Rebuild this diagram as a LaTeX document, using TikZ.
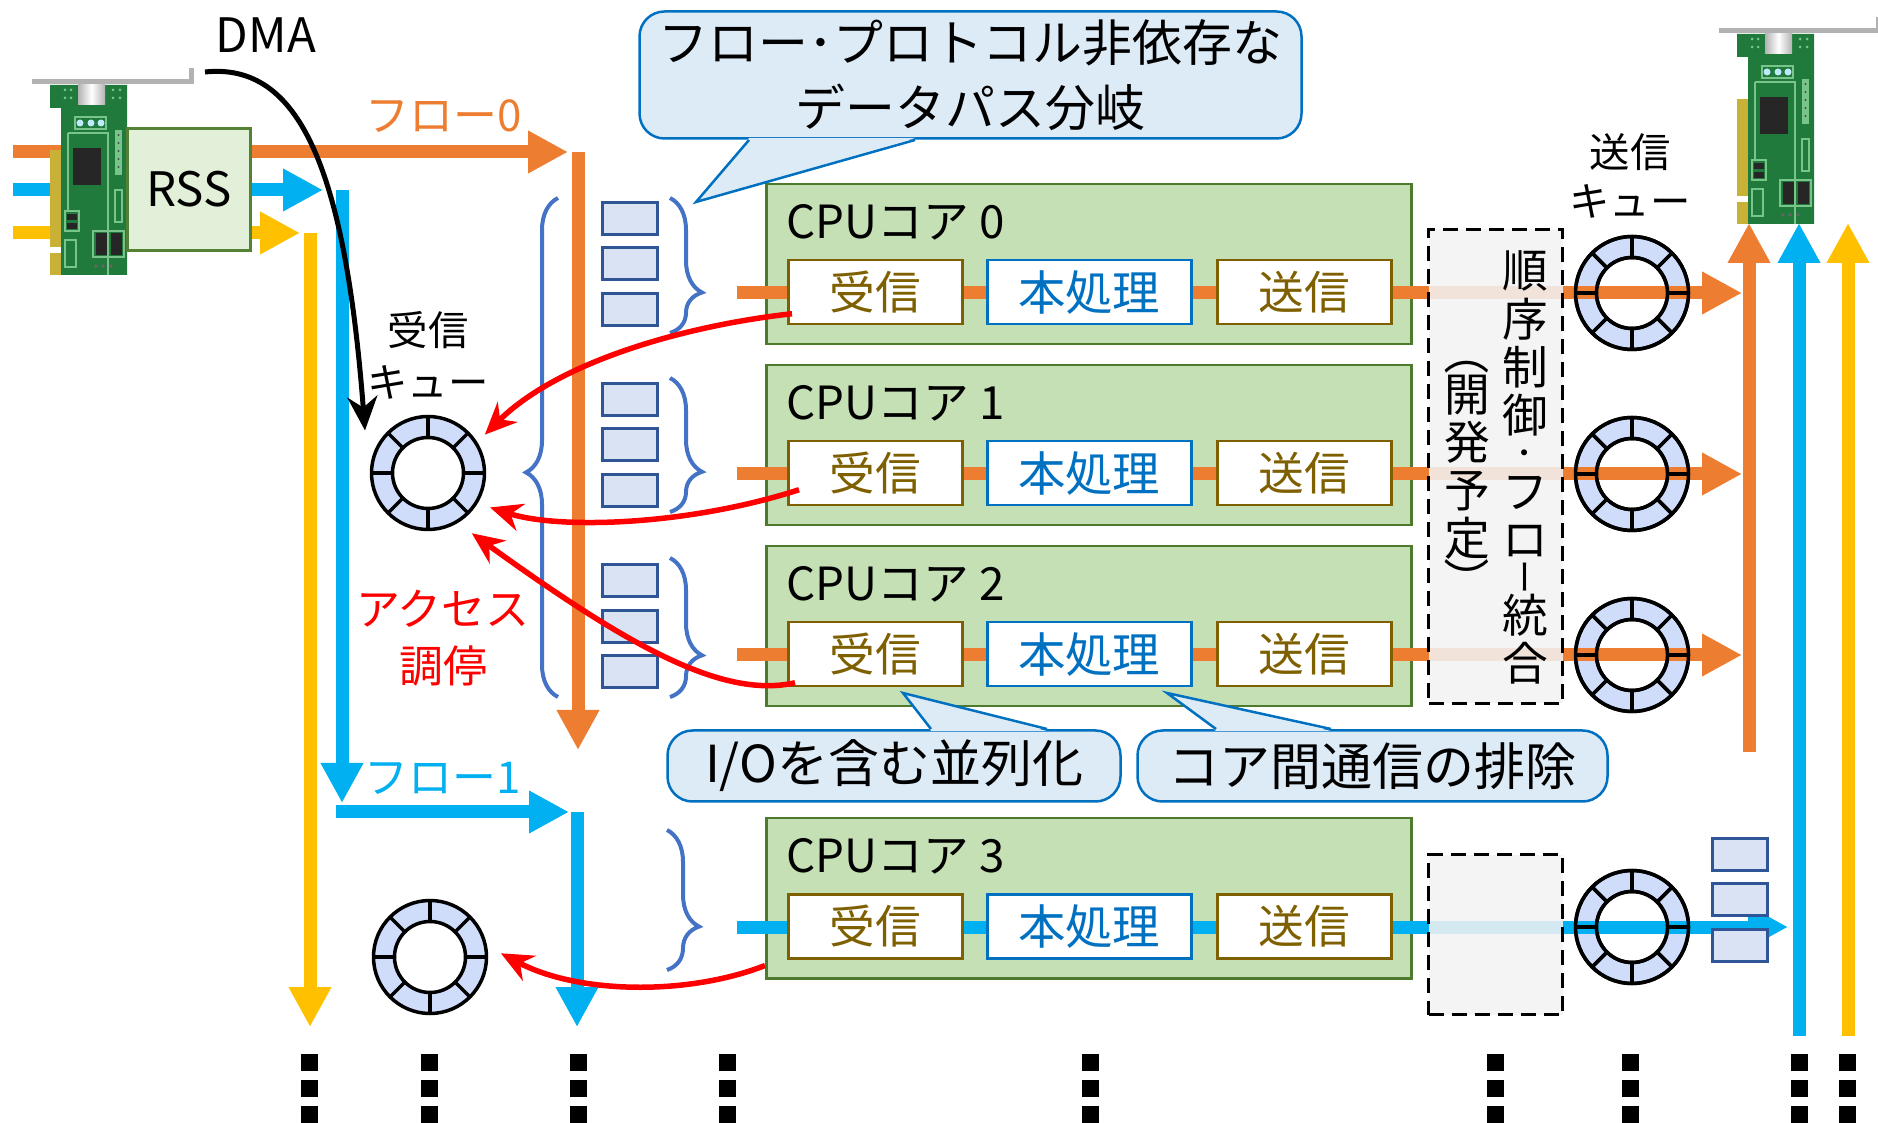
\documentclass[tikz,border=0pt]{standalone}
\usepackage{fontspec}
\setmainfont{Noto Sans CJK JP}
\usetikzlibrary{arrows.meta,decorations.pathreplacing}

\definecolor{floworange}{HTML}{ED7D31}
\definecolor{flowblue}{HTML}{00B0F0}
\definecolor{flowyellow}{HTML}{FFC000}
\definecolor{corefill}{HTML}{C5E0B4}
\definecolor{coreline}{HTML}{4E7A2E}
\definecolor{rssfill}{HTML}{E2F0D9}
\definecolor{rssline}{HTML}{548235}
\definecolor{stageline}{HTML}{7F6000}
\definecolor{procline}{HTML}{0070C0}
\definecolor{qfill}{HTML}{DAE3F3}
\definecolor{qline}{HTML}{2F5597}
\definecolor{bracecol}{HTML}{4472C4}
\definecolor{ringfill}{HTML}{CFDDFB}
\definecolor{bubblefill}{HTML}{DDEBF7}
\definecolor{bubbleline}{HTML}{0070C0}
\definecolor{pendfill}{HTML}{F2F2F2}
\definecolor{pcb}{HTML}{1F7A3B}
\definecolor{pcbtrace}{HTML}{79C48A}
\definecolor{pins}{HTML}{C9B037}

% network card, origin = top left corner of the board
\newcommand{\nic}[1]{%
  \begin{scope}[shift={#1}]
    \draw[gray!60, line width=0.5mm] (-18,-1) -- (141,-1) -- (141,-15);
    \fill[pcb] (0,2) -- (77,2) -- (77,192) -- (11,192) -- (11,25) -- (0,25) -- cycle;
    \fill[pins] (0,67) rectangle (11,164);
    \fill[pins] (0,170) rectangle (11,192);
    \shade[left color=gray!60, right color=gray!60, middle color=white] (28,2) rectangle (55,22);
    \draw[pcbtrace, line width=0.15mm] (25,34) rectangle (56,46);
    \foreach \x in {30,41,51} \fill[cyan!25] (\x,40) circle (0.35mm);
    \draw[pcbtrace, line width=0.15mm] (18,50) -- (58,50) -- (58,192) (18,50) -- (18,128);
    \fill[black!85] (23,65) rectangle (51,102);
    \fill[pcbtrace] (65,47) rectangle (72,92);
    \foreach \y in {52,60,...,88} \fill[black!70] (68.5,\y) circle (0.12mm);
    \draw[pcbtrace, line width=0.15mm] (65,107) rectangle (72,139);
    \draw[pcbtrace, line width=0.15mm] (15,128) rectangle (29,148);
    \fill[black!85] (17,131) rectangle (27,137);
    \fill[black!85] (17,140) rectangle (27,146);
    \draw[pcbtrace, line width=0.15mm] (43,148) rectangle (74,174);
    \fill[black!85] (46,150) rectangle (57,172);
    \fill[black!85] (61,150) rectangle (72,172);
    \draw[pcbtrace, line width=0.15mm] (15,157) rectangle (26,184);
    \foreach \x in {46,53,61} \fill[black!60] (\x,183) circle (0.18mm);
    \foreach \x/\y in {15/7,21/7,15/15,21/15,63/7,70/7,63/15,70/15} \fill[pcbtrace] (\x,\y) circle (0.15mm);
  \end{scope}}

% upright glyph turned for vertical setting (em box kept so it stays centred)
\newcommand{\vturn}[1]{\rotatebox[origin=c]{-90}{\rule[-0.12em]{0pt}{1em}#1}}
\newcommand{\vsmall}[1]{{\fontsize{8}{8}\selectfont #1}}
\newcommand{\vbar}{{\fontsize{10}{10}\selectfont\vturn{ー}}}

\tikzset{
  flow/.style={line width=1.3mm, -{Triangle[length=4mm,width=4mm]}},
  core/.style={draw=coreline, fill=corefill, line width=0.25mm, minimum width=64.5mm, minimum height=16mm, inner sep=0, anchor=north west},
  stage/.style={draw=stageline, text=stageline, fill=white, line width=0.25mm, minimum width=17.4mm, minimum height=6.4mm, inner sep=0, anchor=north west},
  proc/.style={stage, draw=procline, text=procline, minimum width=20.4mm},
  qbox/.style={draw=qline, fill=qfill, line width=0.3mm, minimum width=5.5mm, minimum height=3.2mm, inner sep=0},
  grp/.style={draw=bracecol, line width=0.4mm, decorate, decoration={brace, amplitude=3.2mm, aspect=#1}},
  ring/.style={circle, draw, line width=0.35mm, fill=ringfill, minimum size=11.3mm, inner sep=0,
    path picture={
      \draw[line width=0.35mm, fill=#1] (path picture bounding box.center) circle (3.55mm);
      \foreach \a in {0,45,...,315}
        \draw[line width=0.35mm] ([shift={(\a:3.55mm)}]path picture bounding box.center)
          -- ([shift={(\a:6mm)}]path picture bounding box.center);
    }},
  ring/.default=white,
  pending/.style={draw, dash pattern=on 1.5mm off 0.8mm, line width=0.3mm, fill=pendfill, fill opacity=0.88, inner sep=0},
  bubble/.style={draw=bubbleline, fill=bubblefill, line width=0.25mm, rounded corners=2.5mm, align=center, inner sep=0},
  arb/.style={red, line width=0.55mm, -{Stealth[length=3.2mm,width=2.8mm]}},
  lbl/.style={inner sep=0, align=center},
}

\begin{document}
\begin{tikzpicture}[x=0.1mm, y=-0.1mm, font=\fontsize{13}{15}\selectfont]
  \useasboundingbox (0,0) rectangle (1878,1123);

  % flows out of the receiving card
  \path (13,152) coordinate (o0) (568,152) coordinate (o1) (578,152) coordinate (o2) (578,750) coordinate (o3);
  \path (13,190) coordinate (b0) (323,190) coordinate (b1) (342,190) coordinate (b2) (342,803) coordinate (b3)
        (336,812) coordinate (b4) (569,812) coordinate (b5) (577,812) coordinate (b6) (577,1027) coordinate (b7);
  \path (13,233) coordinate (y0) (300,233) coordinate (y1) (310,233) coordinate (y2) (310,1027) coordinate (y3);
  \draw[flow, floworange] (o0) -- (o1);
  \draw[flow, floworange] (o2) -- (o3);
  \draw[flow, flowblue] (b0) -- (b1);
  \draw[flow, flowblue] (b2) -- (b3);
  \draw[flow, flowblue] (b4) -- (b5);
  \draw[flow, flowblue] (b6) -- (b7);
  \draw[flow, flowyellow] (y0) -- (y1);
  \draw[flow, flowyellow] (y2) -- (y3);

  \nic{(50,83)}
  \node[draw=rssline, fill=rssfill, line width=0.25mm, minimum width=12.3mm, minimum height=12.2mm, font=\fontsize{13.5}{15}\selectfont] (rss) at (189,189.5) {RSS};

  % cores
  \foreach \i/\t/\e/\c in {0/183/1742/floworange, 1/364/1742/floworange, 2/545/1742/floworange, 3/817/1788/flowblue} {
    \node[core] (core\i) at (765,\t) {};
    \node[lbl, anchor=west] (name\i) at (786,\t+39) {CPUコア \i};
    \node[ring] (tq\i) at (1632,\t+110) {};
    \coordinate (in\i) at (737,\t+110);
    \coordinate (out\i) at (\e,\t+110);
    \draw[flow, \c] (in\i) -- (out\i);
    \node[ring=none, fill=none] (tqtop\i) at (tq\i) {};
    \node[stage] (rx\i) at (787,\t+76) {受信};
    \node[proc, font=\fontsize{13.5}{15}\selectfont] (pr\i) at (986,\t+76) {本処理};
    \node[stage] (tx\i) at (1216,\t+76) {送信};
  }

  % ordering / flow merge (planned)
  \node[pending, minimum width=13.4mm, minimum height=47.4mm] (order) at (1495.5,466.5) {};
  \node[pending, minimum width=13.4mm, minimum height=16mm] (order3) at (1495.5,934.5) {};
  \node[lbl, font=\fontsize{13}{13.7}\selectfont] (ordtxt) at (1525,467.5)
    {順\\序\\制\\御\\[-1.7mm]\vsmall{・}\\[-0.35mm]フ\\ロ\\[-1.45mm]\vbar\\[-0.6mm]統\\合};
  \node[lbl, font=\fontsize{13}{13.7}\selectfont] (devtxt) at (1467,466.5)
    {\vturn{（}\\[-0.7mm]開\\発\\予\\定\\[-0.6mm]\vturn{）}};

  % receive queues
  \node[ring] (rq0) at (428,473) {};
  \node[ring] (rq1) at (430,957) {};

  % packet buffers and groupings
  \foreach \y [count=\k] in {219,264,310,400,445,491,581,627,672}
    \node[qbox] (buf\k) at (629.5,\y) {};
  \foreach \y [count=\k] in {854,899.5,945}
    \node[qbox] (obuf\k) at (1739.5,\y) {};
  \foreach \t/\b in {198/333, 378/512, 558/697}
    \draw[grp=0.7] (670,\t) -- (670,\b);
  \draw[grp=0.69] (667,830) -- (667,970);
  \draw[grp=0.45] (558,697) -- (558,198);

  % sending card
  \path (1749,752) coordinate (ro0) (1749,223) coordinate (ro1)
        (1799,1036) coordinate (rb0) (1799,223) coordinate (rb1)
        (1848,1036) coordinate (ry0) (1848,223) coordinate (ry1);
  \nic{(1737,32)}
  \draw[flow, floworange] (ro0) -- (ro1);
  \draw[flow, flowblue] (rb0) -- (rb1);
  \draw[flow, flowyellow] (ry0) -- (ry1);

  % access arbitration and DMA
  \draw[arb] ([shift={(0.5mm,-2.15mm)}]rx0.west) .. controls (690,325) and (560,360) .. ([shift={(34:6.85mm)}]rq0.center);
  \draw[arb] ([shift={(1.2mm,-1.65mm)}]rx1.west) .. controls (690,525) and (560,530) .. ([shift={(-29:7.1mm)}]rq0.center);
  \draw[arb] ([shift={(0.8mm,-2.85mm)}]rx2.west) .. controls (720,700) and (620,640) .. ([shift={(-54:7.45mm)}]rq0.center);
  \draw[arb] ([yshift=1.4mm]core3.south west) .. controls (690,995) and (580,995) .. ([shift={(3:7.1mm)}]rq1.center);
  \node[lbl, font=\fontsize{13.5}{15}\selectfont] (dma) at (266,35) {DMA};
  \coordinate (dmafrom) at (205,72);
  \draw[line width=0.5mm, -{Stealth[length=3.4mm,width=3mm]}] (dmafrom) .. controls (300,62) and (345,170) .. ([shift={(146:7.6mm)}]rq0.center);

  % callouts
  \node[bubble, minimum width=66.2mm, minimum height=12.7mm, font=\fontsize{14.2}{18.5}\selectfont] (branch) at (970.5,75)
    {フロー･プロトコル非依存な\\データパス分岐};
  \fill[bubblefill] (749,138) -- (696,202) -- (915,138) -- cycle;
  \draw[bubbleline, line width=0.25mm] (749,140) -- (696,202) -- (915,140);
  \node[bubble, minimum width=45.3mm, minimum height=7.1mm, font=\fontsize{14.5}{15}\selectfont] (para) at (894,766) {I/Oを含む並列化};
  \fill[bubblefill] (931,731) -- (903,693) -- (1047,731) -- cycle;
  \draw[bubbleline, line width=0.25mm] (931,729) -- (903,693) -- (1047,729);
  \node[bubble, minimum width=47mm, minimum height=7.1mm, font=\fontsize{14.5}{15}\selectfont] (nocomm) at (1372.5,766) {コア間通信の排除};
  \fill[bubblefill] (1216,731) -- (1167,693) -- (1331,731) -- cycle;
  \draw[bubbleline, line width=0.25mm] (1216,729) -- (1167,693) -- (1331,729);

  % labels
  \node[lbl, text=floworange, font=\fontsize{12.5}{15}\selectfont] (flow0) at (444,116) {フロー0};
  \node[lbl, text=flowblue, font=\fontsize{12.5}{15}\selectfont] (flow1) at (443,778) {フロー1};
  \node[lbl, font=\fontsize{11.5}{14.8}\selectfont] (rxq) at (428,355) {受信\\キュー};
  \node[lbl, font=\fontsize{11.5}{13.7}\selectfont] (txq) at (1630,176) {送信\\キュー};
  \node[lbl, text=red, font=\fontsize{12.5}{16.2}\selectfont] (arbtxt) at (443,638) {アクセス\\調停};

  % more flows / cores continue below
  \foreach \x in {309,429,578,727,1090,1495,1630,1799,1847}
    \foreach \y in {1054,1080,1106}
      \fill (\x-8.5,\y) rectangle ++(17,17);
\end{tikzpicture}
\end{document}
